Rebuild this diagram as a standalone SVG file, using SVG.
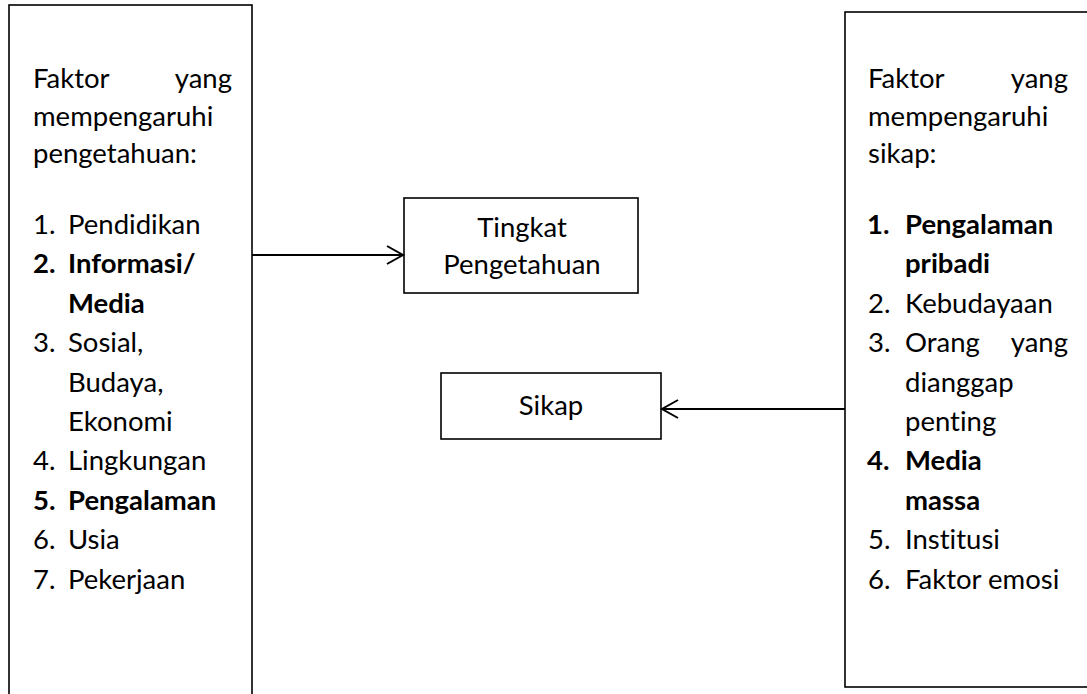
<svg xmlns="http://www.w3.org/2000/svg" width="1087" height="694" viewBox="0 0 1087 694">
<defs>
<style>
.box{fill:#fff;stroke:#000;stroke-width:1.6}
.t{font-family:Lato,"Liberation Sans",sans-serif;font-size:27.5px;fill:#000;font-variant-ligatures:none;font-feature-settings:"liga" 0,"clig" 0}
.b{font-weight:bold}
.c{text-anchor:middle}
.e{text-anchor:end}
.ln{stroke:#000;stroke-width:2;fill:none}
</style>
<marker id="arr" markerWidth="20" markerHeight="22" refX="17" refY="11" orient="auto" markerUnits="userSpaceOnUse">
<path d="M1,2 L17,11 L1,20" fill="none" stroke="#000" stroke-width="2"/>
</marker>
</defs>
<rect width="1087" height="694" fill="#fff"/>
<g id="left-factors">
<rect class="box" x="9" y="5" width="243" height="700"/>
<text class="t" x="33" y="88">Faktor</text>
<text class="t e" x="232" y="88">yang</text>
<text class="t" x="33" y="125.5">mempengaruhi</text>
<text class="t" x="33" y="163">pengetahuan:</text>
<text class="t" x="33" y="234">1.</text><text class="t" x="68" y="234">Pendidikan</text>
<text class="t b" x="33" y="273.4">2.</text><text class="t b" x="68" y="273.4">Informasi/</text>
<text class="t b" x="68" y="312.8">Media</text>
<text class="t" x="33" y="352.2">3.</text><text class="t" x="68" y="352.2">Sosial,</text>
<text class="t" x="68" y="391.6">Budaya,</text>
<text class="t" x="68" y="431">Ekonomi</text>
<text class="t" x="33" y="470.4">4.</text><text class="t" x="68" y="470.4">Lingkungan</text>
<text class="t b" x="33" y="509.8">5.</text><text class="t b" x="68" y="509.8">Pengalaman</text>
<text class="t" x="33" y="549.2">6.</text><text class="t" x="68" y="549.2">Usia</text>
<text class="t" x="33" y="588.6">7.</text><text class="t" x="68" y="588.6">Pekerjaan</text>
</g>
<g id="tingkat-pengetahuan">
<rect class="box" x="404" y="198" width="234" height="95"/>
<text class="t c" x="522" y="237">Tingkat</text>
<text class="t c" x="522" y="274">Pengetahuan</text>
</g>
<g id="sikap">
<rect class="box" x="441" y="373" width="220" height="66"/>
<text class="t c" x="551" y="415">Sikap</text>
</g>
<g id="right-factors">
<rect class="box" x="845" y="12" width="260" height="675"/>
<text class="t" x="868" y="88">Faktor</text>
<text class="t e" x="1068" y="88">yang</text>
<text class="t" x="868" y="125.5">mempengaruhi</text>
<text class="t" x="868" y="163">sikap:</text>
<text class="t b" x="867" y="234">1.</text><text class="t b" x="905" y="234">Pengalaman</text>
<text class="t b" x="905" y="273.4">pribadi</text>
<text class="t" x="868" y="312.8">2.</text><text class="t" x="905" y="312.8">Kebudayaan</text>
<text class="t" x="868" y="352.2">3.</text><text class="t" x="905" y="352.2">Orang</text><text class="t e" x="1068" y="352.2">yang</text>
<text class="t" x="905" y="391.6">dianggap</text>
<text class="t" x="905" y="431">penting</text>
<text class="t b" x="867" y="470.4">4.</text><text class="t b" x="905" y="470.4">Media</text>
<text class="t b" x="905" y="509.8">massa</text>
<text class="t" x="868" y="549.2">5.</text><text class="t" x="905" y="549.2">Institusi</text>
<text class="t" x="868" y="588.6">6.</text><text class="t" x="905" y="588.6">Faktor emosi</text>
</g>
<g id="connectors">
<line class="ln" x1="252" y1="255" x2="403" y2="255" marker-end="url(#arr)"/>
<line class="ln" x1="845" y1="409" x2="662" y2="409" marker-end="url(#arr)"/>
</g>
</svg>
